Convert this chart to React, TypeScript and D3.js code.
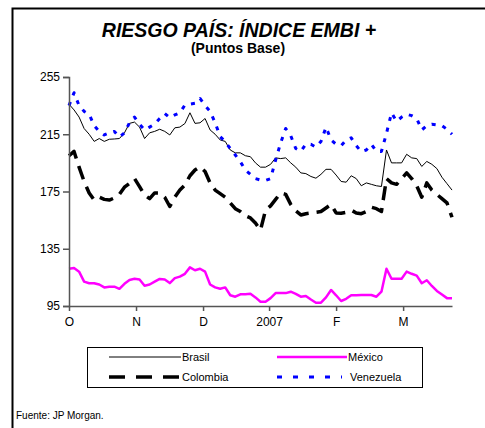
import React, { useRef, useEffect } from 'react';
import * as d3 from 'd3';

// business-day sample index 0..76, Oct 2006 -> late Mar 2007
const monthLabels = ['O', 'N', 'D', '2007', 'F', 'M'];
const monthPos = [0, 13.3, 26.6, 39.7, 53, 66.3];
const yTicks = [95, 135, 175, 215, 255];

const brasil = [
  236, 232, 227, 219, 215, 210, 212, 210, 211.5, 211.7, 212, 216, 222.6, 223.5, 220, 212,
  216, 217, 218.5, 217, 214.5, 219.5, 220, 222.5, 230, 222.6, 223, 226, 218, 215, 211, 210,
  204, 202, 202, 200, 199.3, 195, 192, 192, 194, 198.5, 198, 198.5, 195, 192, 188, 187.5,
  185.5, 184.3, 187, 190.5, 190.5, 186.5, 182, 181.5, 186, 184, 179, 181, 180, 179, 178.5,
  204, 195, 195, 195, 201, 198.5, 198, 192.5, 196, 194, 191, 185, 180.5, 176,
];

const colombia = [
  200, 203, 192, 182, 174, 169, 171, 169.5, 169, 170.5, 173, 178, 180.7, 184, 178.4, 172.5,
  170, 174, 174, 171, 164.5, 171, 176, 179.5, 186, 190, 192.3, 189, 181, 176, 173.5, 171,
  167, 163, 161, 158, 156.5, 153, 148, 162, 165, 169.5, 174, 173, 166, 161.5, 158.6, 159.5,
  160, 160.5, 161, 163.5, 166, 160, 159.8, 160.5, 162, 160, 159.5, 161, 164, 163, 161,
  184, 181, 180, 184, 188, 184, 179, 171, 181, 176, 173, 170, 167, 157,
];

const mexico = [
  121, 121.5, 119, 112, 110.9, 110.9, 110, 108, 108.5, 108.5, 107, 110.5, 113.2, 114, 113.5, 109.2,
  110, 112, 113.9, 113.5, 111, 114.5, 115.5, 117.5, 122, 120, 121, 119, 110, 108, 107, 108,
  102.5, 101.5, 103.2, 103.2, 103.5, 101, 98, 98, 100.5, 104, 104, 104, 105, 103.5, 101.5, 102,
  99.5, 97.3, 97.3, 101, 106.2, 102.5, 98.5, 100, 102.5, 102.5, 102.7, 102.7, 102.7, 101.5, 105,
  121, 114, 114, 114, 119, 117.5, 116.2, 110.9, 113, 109, 105.5, 103, 100.5, 100.4,
];

const venezuela = [
  235, 244, 235, 231, 229, 221, 217, 214.5, 216, 217, 213, 216, 223, 227, 222, 218,
  220, 222, 226, 229.5, 226.6, 228.5, 230, 235.4, 236, 236.6, 240, 235, 231, 223, 213.3, 209.8,
  205, 200.5, 195.8, 190, 187, 184, 183, 182.7, 184, 197, 209, 219, 214, 205, 203, 208,
  208, 206, 210, 220, 211, 208, 207, 211, 212.5, 207, 202.8, 204, 208, 203, 203,
  215.6, 230, 224, 227, 229, 228, 226, 218, 221, 222, 221.5, 221, 218.5, 215,
];

const series = [
  { name: 'Brasil', values: brasil, color: '#000000', width: 1, dash: null, legendDash: null },
  { name: 'México', values: mexico, color: '#FF00FF', width: 2.5, dash: null, legendDash: null },
  { name: 'Colombia', values: colombia, color: '#000000', width: 3.5, dash: '14,8', legendDash: '16,11' },
  { name: 'Venezuela', values: venezuela, color: '#0000FF', width: 3, dash: '4,7', legendDash: '5,11' },
];

const App = () => {
  const svgRef = useRef<SVGSVGElement>(null);

  useEffect(() => {
    document.body.style.margin = '0';
    document.body.style.overflow = 'hidden';

    const svg = d3.select(svgRef.current);
    svg.selectAll('*').remove();
    const font = 'Arial, "Liberation Sans", sans-serif';

    const left = 69, right = 452, top = 77, bottom = 306;
    const x = d3.scaleLinear().domain([0, brasil.length - 1]).range([left, right]);
    const y = d3.scaleLinear().domain([95, 255]).range([bottom, top]);

    // outer frame (only top and left edges fall inside the picture)
    svg.append('path')
      .attr('d', 'M12.5,428 L12.5,8.5 L485,8.5')
      .attr('fill', 'none').attr('stroke', 'black').attr('stroke-width', 2);

    svg.append('text')
      .attr('x', 239).attr('y', 36.5).attr('text-anchor', 'middle')
      .attr('font-family', font).attr('font-size', 19.5)
      .attr('font-weight', 'bold').attr('font-style', 'italic')
      .text('RIESGO PAÍS: ÍNDICE EMBI +');

    svg.append('text')
      .attr('x', 238).attr('y', 52.5).attr('text-anchor', 'middle')
      .attr('font-family', font).attr('font-size', 14).attr('font-weight', 'bold')
      .text('(Puntos Base)');

    const line = d3.line<number>()
      .x((d, i) => x(i))
      .y((d) => y(d));

    const g = svg.append('g');
    [series[0], series[2], series[3], series[1]].forEach((s) => {
      g.append('path')
        .datum(s.values)
        .attr('d', line)
        .attr('fill', 'none')
        .attr('stroke', s.color)
        .attr('stroke-width', s.width)
        .attr('stroke-dasharray', s.dash)
        .attr('stroke-linejoin', 'round');
    });

    const yAxis = svg.append('g')
      .attr('transform', `translate(${left},0)`)
      .call(d3.axisLeft(y).tickValues(yTicks).tickSize(6).tickPadding(3));
    yAxis.select('.domain').attr('stroke', '#555').attr('stroke-width', 1.5);
    yAxis.selectAll('line').attr('stroke', '#555').attr('stroke-width', 1.5);
    yAxis.selectAll('text').attr('font-family', font).attr('font-size', 12).attr('fill', '#000');

    const xAxis = svg.append('g')
      .attr('transform', `translate(0,${bottom})`)
      .call(d3.axisBottom(x).tickValues(monthPos).tickFormat((d, i) => monthLabels[i])
        .tickSize(5).tickSizeOuter(0).tickPadding(6));
    xAxis.select('.domain').attr('stroke', '#555').attr('stroke-width', 1.5);
    xAxis.selectAll('line').attr('stroke', '#555').attr('stroke-width', 1.5);
    xAxis.selectAll('text').attr('font-family', font).attr('font-size', 12).attr('fill', '#000');

    // legend
    const lg = svg.append('g');
    lg.append('rect')
      .attr('x', 87.5).attr('y', 347.5).attr('width', 335).attr('height', 40)
      .attr('fill', 'white').attr('stroke', 'black').attr('stroke-width', 1);
    const slots = [
      { s: series[0], x0: 109, x1: 181, tx: 182, yy: 357 },
      { s: series[1], x0: 277, x1: 347, tx: 348, yy: 357 },
      { s: series[2], x0: 109, x1: 181, tx: 182, yy: 377 },
      { s: series[3], x0: 277, x1: 342, tx: 350, yy: 377 },
    ];
    slots.forEach(({ s, x0, x1, tx, yy }) => {
      lg.append('line')
        .attr('x1', x0).attr('x2', x1).attr('y1', yy).attr('y2', yy)
        .attr('stroke', s.color).attr('stroke-width', s.width)
        .attr('stroke-dasharray', s.legendDash);
      lg.append('text')
        .attr('x', tx).attr('y', yy + 4)
        .attr('font-family', font).attr('font-size', 11)
        .text(s.name);
    });

    svg.append('text')
      .attr('x', 16).attr('y', 419)
      .attr('font-family', font).attr('font-size', 10)
      .text('Fuente: JP Morgan.');
  }, []);

  return (
    <svg ref={svgRef} width={485} height={428}
      style={{ display: 'block', background: 'white' }} />
  );
};

export default App;
